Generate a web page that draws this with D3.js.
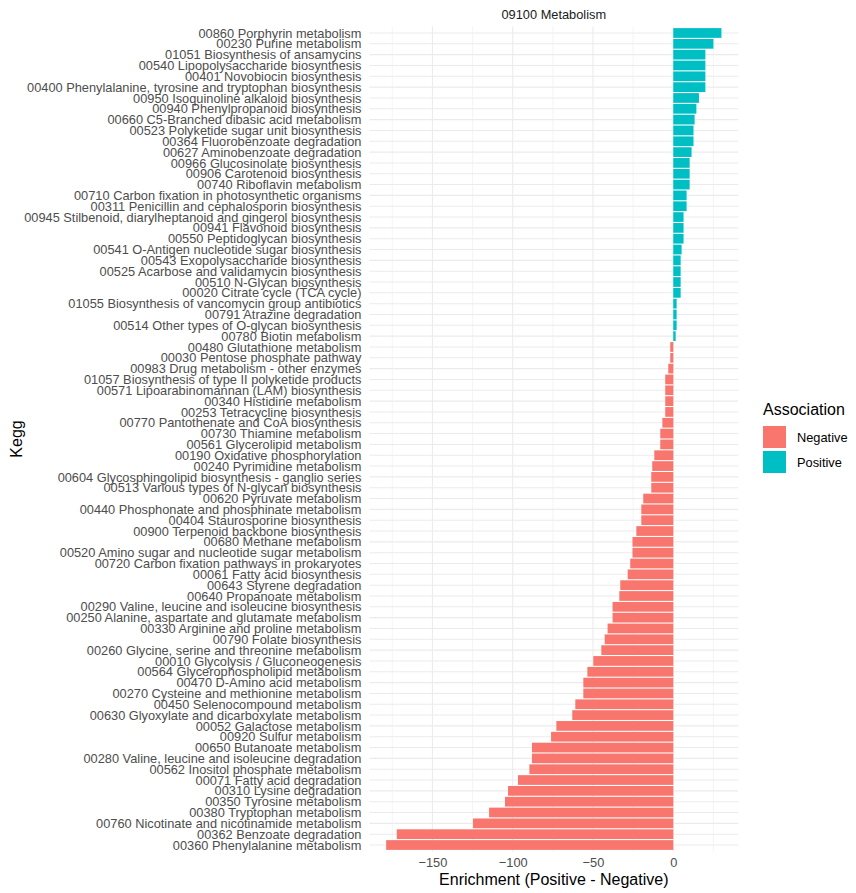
<!DOCTYPE html>
<html>
<head>
<meta charset="utf-8">
<script src="https://cdn.jsdelivr.net/npm/d3@7"></script>
<style>
  body { margin: 0; background: #fff; }
  text { font-family: "Liberation Sans", Arial, sans-serif; }
</style>
</head>
<body>
<svg id="chart"></svg>
<script>
// pathways, top to bottom as drawn
const pathways = [
  "00860 Porphyrin metabolism",
  "00230 Purine metabolism",
  "01051 Biosynthesis of ansamycins",
  "00540 Lipopolysaccharide biosynthesis",
  "00401 Novobiocin biosynthesis",
  "00400 Phenylalanine, tyrosine and tryptophan biosynthesis",
  "00950 Isoquinoline alkaloid biosynthesis",
  "00940 Phenylpropanoid biosynthesis",
  "00660 C5-Branched dibasic acid metabolism",
  "00523 Polyketide sugar unit biosynthesis",
  "00364 Fluorobenzoate degradation",
  "00627 Aminobenzoate degradation",
  "00966 Glucosinolate biosynthesis",
  "00906 Carotenoid biosynthesis",
  "00740 Riboflavin metabolism",
  "00710 Carbon fixation in photosynthetic organisms",
  "00311 Penicillin and cephalosporin biosynthesis",
  "00945 Stilbenoid, diarylheptanoid and gingerol biosynthesis",
  "00941 Flavonoid biosynthesis",
  "00550 Peptidoglycan biosynthesis",
  "00541 O-Antigen nucleotide sugar biosynthesis",
  "00543 Exopolysaccharide biosynthesis",
  "00525 Acarbose and validamycin biosynthesis",
  "00510 N-Glycan biosynthesis",
  "00020 Citrate cycle (TCA cycle)",
  "01055 Biosynthesis of vancomycin group antibiotics",
  "00791 Atrazine degradation",
  "00514 Other types of O-glycan biosynthesis",
  "00780 Biotin metabolism",
  "00480 Glutathione metabolism",
  "00030 Pentose phosphate pathway",
  "00983 Drug metabolism - other enzymes",
  "01057 Biosynthesis of type II polyketide products",
  "00571 Lipoarabinomannan (LAM) biosynthesis",
  "00340 Histidine metabolism",
  "00253 Tetracycline biosynthesis",
  "00770 Pantothenate and CoA biosynthesis",
  "00730 Thiamine metabolism",
  "00561 Glycerolipid metabolism",
  "00190 Oxidative phosphorylation",
  "00240 Pyrimidine metabolism",
  "00604 Glycosphingolipid biosynthesis - ganglio series",
  "00513 Various types of N-glycan biosynthesis",
  "00620 Pyruvate metabolism",
  "00440 Phosphonate and phosphinate metabolism",
  "00404 Staurosporine biosynthesis",
  "00900 Terpenoid backbone biosynthesis",
  "00680 Methane metabolism",
  "00520 Amino sugar and nucleotide sugar metabolism",
  "00720 Carbon fixation pathways in prokaryotes",
  "00061 Fatty acid biosynthesis",
  "00643 Styrene degradation",
  "00640 Propanoate metabolism",
  "00290 Valine, leucine and isoleucine biosynthesis",
  "00250 Alanine, aspartate and glutamate metabolism",
  "00330 Arginine and proline metabolism",
  "00790 Folate biosynthesis",
  "00260 Glycine, serine and threonine metabolism",
  "00010 Glycolysis / Gluconeogenesis",
  "00564 Glycerophospholipid metabolism",
  "00470 D-Amino acid metabolism",
  "00270 Cysteine and methionine metabolism",
  "00450 Selenocompound metabolism",
  "00630 Glyoxylate and dicarboxylate metabolism",
  "00052 Galactose metabolism",
  "00920 Sulfur metabolism",
  "00650 Butanoate metabolism",
  "00280 Valine, leucine and isoleucine degradation",
  "00562 Inositol phosphate metabolism",
  "00071 Fatty acid degradation",
  "00310 Lysine degradation",
  "00350 Tyrosine metabolism",
  "00380 Tryptophan metabolism",
  "00760 Nicotinate and nicotinamide metabolism",
  "00362 Benzoate degradation",
  "00360 Phenylalanine metabolism"
];

// enrichment (positive - negative), same order
const enrichment = [
  30, 25, 20, 20, 20, 20, 16, 14.4, 13.3, 12.6,
  12.6, 11.4, 10.2, 10.2, 10.2, 8.3, 8.3, 6.4, 6.4, 6.4,
  5.2, 4.6, 4.6, 4.6, 4.6, 2.1, 2.1, 2.1, 1.5, -1.9,
  -1.9, -3.1, -5, -5, -5, -5, -6.8, -8.1, -8.1, -11.8,
  -13.1, -13.7, -13.7, -18.7, -19.9, -19.9, -23, -25.4, -25.4, -26.8,
  -28.4, -33, -33.6, -37.8, -37.8, -40.9, -42.7, -44.8, -49.8, -53.5,
  -56, -56, -61, -62.9, -72.8, -76.1, -88, -88, -89.6, -96.7,
  -102.9, -104.8, -114.7, -124.7, -172.2, -178.8
];

const associations = ["Negative", "Positive"];
const assocColors = ["#F8766D", "#00BFC4"];
const xTicks = [-150, -100, -50, 0];
const xMinor = [-175, -125, -75, -25, 25];

const width = 856, height = 893;
const panelLeft = 369.4, panelRight = 738.2;
const panelTop = 26.5, panelBottom = 851.5;
const smallFont = "12.8px", bigFont = "16px";

const data = pathways.map((p, i) => ({
  name: p,
  value: enrichment[i],
  assoc: enrichment[i] < 0 ? "Negative" : "Positive"
}));

// ggplot-style 5% expansion of the continuous axis
const [lo, hi] = d3.extent(enrichment);
const pad = (hi - lo) * 0.05;
const x = d3.scaleLinear().domain([lo - pad, hi + pad]).range([panelLeft, panelRight]);
const y = d3.scalePoint().domain(pathways).range([panelTop, panelBottom]).padding(0.6);
const color = d3.scaleOrdinal(associations, assocColors);
const barH = y.step() * 0.9;

const svg = d3.select("#chart")
  .attr("width", width)
  .attr("height", height);

svg.append("rect").attr("width", width).attr("height", height).attr("fill", "#fff");

const grid = svg.append("g").attr("fill", "none");

// minor vertical grid
grid.selectAll(".minor")
  .data(xMinor)
  .join("line")
  .attr("x1", d => x(d)).attr("x2", d => x(d))
  .attr("y1", panelTop).attr("y2", panelBottom)
  .attr("stroke", "#ebebeb").attr("stroke-width", 0.55);

// major vertical grid
grid.selectAll(".major")
  .data(xTicks)
  .join("line")
  .attr("x1", d => x(d)).attr("x2", d => x(d))
  .attr("y1", panelTop).attr("y2", panelBottom)
  .attr("stroke", "#ebebeb").attr("stroke-width", 1.07);

// horizontal grid, one per category
grid.selectAll(".hgrid")
  .data(pathways)
  .join("line")
  .attr("x1", panelLeft).attr("x2", panelRight)
  .attr("y1", d => y(d)).attr("y2", d => y(d))
  .attr("stroke", "#ebebeb").attr("stroke-width", 1.07);

// bars
svg.append("g")
  .selectAll("rect")
  .data(data)
  .join("rect")
  .attr("x", d => x(Math.min(0, d.value)))
  .attr("width", d => Math.abs(x(d.value) - x(0)))
  .attr("y", d => y(d.name) - barH / 2)
  .attr("height", barH)
  .attr("fill", d => color(d.assoc));

// y axis labels
const yAxis = d3.axisLeft(y).tickSize(0).tickPadding(8);
svg.append("g")
  .attr("transform", `translate(${panelLeft},0)`)
  .call(yAxis)
  .call(g => g.select(".domain").remove())
  .call(g => g.selectAll("text")
    .attr("fill", "#4d4d4d")
    .style("font-size", smallFont)
    .style("font-family", "'Liberation Sans', Arial, sans-serif"));

// x axis labels
const xAxis = d3.axisBottom(x).tickValues(xTicks).tickSize(0).tickPadding(6);
svg.append("g")
  .attr("transform", `translate(0,${panelBottom})`)
  .call(xAxis)
  .call(g => g.select(".domain").remove())
  .call(g => g.selectAll("text")
    .attr("fill", "#4d4d4d")
    .style("font-size", smallFont)
    .style("font-family", "'Liberation Sans', Arial, sans-serif"));

// facet strip title
svg.append("text")
  .attr("x", (panelLeft + panelRight) / 2)
  .attr("y", 19)
  .attr("text-anchor", "middle")
  .attr("fill", "#1a1a1a")
  .style("font-size", smallFont)
  .text("09100 Metabolism");

// axis titles
svg.append("text")
  .attr("x", (panelLeft + panelRight) / 2)
  .attr("y", 884.5)
  .attr("text-anchor", "middle")
  .attr("fill", "#000")
  .style("font-size", bigFont)
  .text("Enrichment (Positive - Negative)");

svg.append("text")
  .attr("transform", `translate(22,${(panelTop + panelBottom) / 2}) rotate(-90)`)
  .attr("text-anchor", "middle")
  .attr("fill", "#000")
  .style("font-size", bigFont)
  .text("Kegg");

// legend
const legend = svg.append("g").attr("transform", "translate(763,0)");
legend.append("text")
  .attr("x", 0).attr("y", 415)
  .attr("fill", "#000")
  .style("font-size", bigFont)
  .text("Association");

const item = legend.selectAll(".item")
  .data(associations)
  .join("g")
  .attr("transform", (d, i) => `translate(0,${426 + i * 25})`);

item.append("rect")
  .attr("width", 23).attr("height", 22)
  .attr("fill", d => color(d));

item.append("text")
  .attr("x", 34).attr("y", 16)
  .attr("fill", "#000")
  .style("font-size", smallFont)
  .text(d => d);
</script>
</body>
</html>
